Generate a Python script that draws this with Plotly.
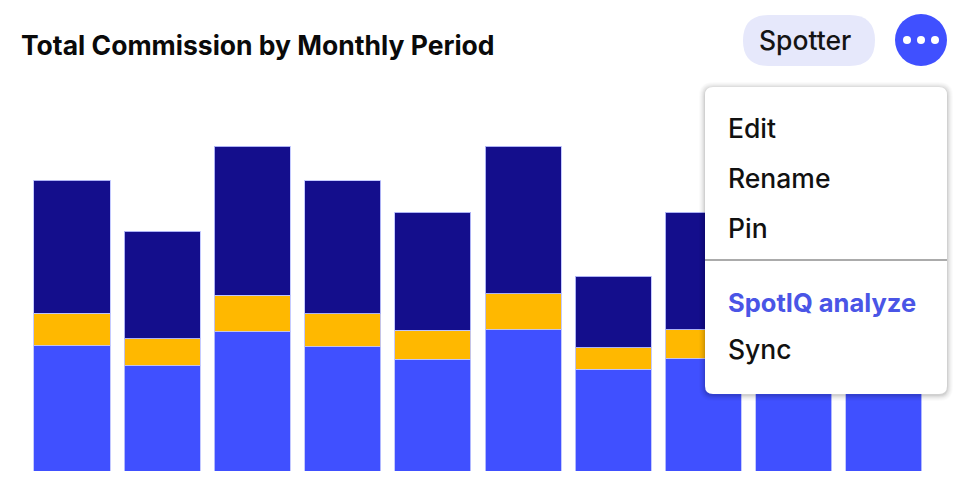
import plotly.graph_objects as go

# ---- data (commission, $K) ----
months = ["Jan", "Feb", "Mar", "Apr", "May", "Jun", "Jul", "Aug", "Sep", "Oct"]
base_commission = [251, 211, 279, 249, 224, 283, 204, 225, 236, 244]
bonus_commission = [65, 54, 73, 66, 58, 72, 43, 58, 60, 62]
override_commission = [266, 215, 298, 266, 236, 295, 143, 235, 240, 250]

title_text = "Total Commission by Monthly Period"
menu_items = ["Edit", "Rename", "Pin"]
menu_items2 = ["SpotIQ analyze", "Sync"]

W, H = 973, 494
FONT = "Inter, 'Noto Sans', sans-serif"
FS = 26.5

fig = go.Figure()
line = dict(color="rgba(190,196,255,0.9)", width=1)
fig.add_bar(x=months, y=base_commission, marker=dict(color="#4050FF", line=line), name="Base")
fig.add_bar(x=months, y=bonus_commission, marker=dict(color="#FFB800", line=line), name="Bonus")
fig.add_bar(x=months, y=override_commission, marker=dict(color="#140E8C", line=line), name="Override")


def rrect(x0, y0, x1, y1, r):
    return (f"M{x0+r},{y0} L{x1-r},{y0} Q{x1},{y0} {x1},{y0+r} "
            f"L{x1},{y1-r} Q{x1},{y1} {x1-r},{y1} L{x0+r},{y1} "
            f"Q{x0},{y1} {x0},{y1-r} L{x0},{y0+r} Q{x0},{y0} {x0+r},{y0} Z")


shapes = []
# Spotter pill
shapes.append(dict(type="path", xref="x2", yref="y2", path=rrect(743, 15, 875, 66, 25.5),
                   fillcolor="#E6E8FB", line=dict(width=0), layer="above"))
# ellipsis button
shapes.append(dict(type="circle", xref="x2", yref="y2", x0=895, y0=14, x1=947, y1=66,
                   fillcolor="#4050FF", line=dict(width=0), layer="above"))
for cx in (907, 921, 935):
    shapes.append(dict(type="circle", xref="x2", yref="y2", x0=cx - 4, y0=36, x1=cx + 4, y1=44,
                       fillcolor="white", line=dict(width=0), layer="above"))
# menu shadow
for i, op in enumerate([0.05, 0.04, 0.03, 0.025, 0.02, 0.015]):
    d = i + 1
    shapes.append(dict(type="path", xref="x2", yref="y2",
                       path=rrect(705 - d, 87 - d + 1, 947 + d, 394 + d + 1, 8 + d),
                       fillcolor=f"rgba(0,0,0,{op})", line=dict(width=0), layer="above"))
# menu
shapes.append(dict(type="path", xref="x2", yref="y2", path=rrect(705, 87, 947, 394, 8),
                   fillcolor="white", line=dict(width=0), layer="above"))
shapes.append(dict(type="line", xref="x2", yref="y2", x0=705, x1=947, y0=260, y1=260,
                   line=dict(color="#ABABAB", width=2), layer="above"))

annotations = [
    dict(text=title_text, x=19, y=45, xref="x2", yref="y2", xanchor="left",
         yanchor="middle", showarrow=False,
         font=dict(family=FONT, size=FS, color="#0A0A0A", weight=700)),
    dict(text="Spotter", x=805, y=40, xref="x2", yref="y2", xanchor="center", yanchor="middle",
         showarrow=False, font=dict(family=FONT, size=FS, color="#141414", weight=500)),
]
for txt, yy in zip(menu_items, [128, 178, 228]):
    annotations.append(dict(text=txt, x=726, y=yy, xref="x2", yref="y2", xanchor="left",
                            yanchor="middle", showarrow=False,
                            font=dict(family=FONT, size=FS, color="#111111", weight=500)))
annotations.append(dict(text=menu_items2[0], x=726, y=302, xref="x2", yref="y2",
                        xanchor="left", yanchor="middle", showarrow=False,
                        font=dict(family=FONT, size=25.5, color="#4A55E6", weight=650)))
annotations.append(dict(text=menu_items2[1], x=726, y=349, xref="x2", yref="y2", xanchor="left",
                        yanchor="middle", showarrow=False,
                        font=dict(family=FONT, size=FS, color="#111111", weight=500)))

fig.update_layout(
    width=W, height=H, barmode="stack", bargap=0.157, showlegend=False,
    margin=dict(l=0, r=0, t=0, b=0), paper_bgcolor="white", plot_bgcolor="rgba(0,0,0,0)",
    xaxis=dict(domain=[26.9 / W, 929 / W], range=[-0.5, 9.5], visible=False),
    yaxis=dict(domain=[23 / H, 1 - 80 / H], range=[0, 782], visible=False),
    xaxis2=dict(domain=[0, 1], range=[0, W], visible=False, anchor="y2"),
    yaxis2=dict(domain=[0, 1], range=[H, 0], visible=False, anchor="x2"),
    shapes=shapes, annotations=annotations, hovermode=False,
)
# invisible trace to activate the pixel-space helper axes
fig.add_scatter(x=[0], y=[0], xaxis="x2", yaxis="y2", mode="markers",
                marker=dict(opacity=0), showlegend=False)

fig.write_html("out.html", config={"displayModeBar": False})
